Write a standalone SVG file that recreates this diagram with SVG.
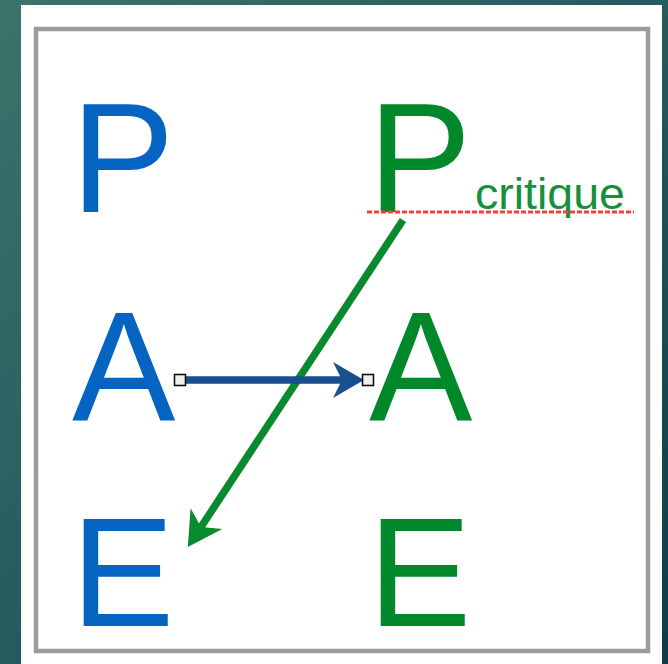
<svg xmlns="http://www.w3.org/2000/svg" width="668" height="664" viewBox="0 0 668 664">
  <defs>
    <linearGradient id="bg" x1="0" y1="0" x2="1" y2="1">
      <stop offset="0" stop-color="#3a746b"/>
      <stop offset="0.5" stop-color="#255a5e"/>
      <stop offset="1" stop-color="#0e3a4a"/>
    </linearGradient>
    <marker id="headBlue" markerUnits="userSpaceOnUse" markerWidth="40" markerHeight="40" refX="0" refY="0" viewBox="-10 -20 40 40" orient="auto" overflow="visible">
      <path d="M22,0 L-9,-18 L0,0 L-9,18 Z" fill="#1a4f8e"/>
    </marker>
    <marker id="headGreen" markerUnits="userSpaceOnUse" markerWidth="40" markerHeight="40" refX="0" refY="0" viewBox="-10 -20 40 40" orient="auto" overflow="visible">
      <path d="M24,0 L-10,-19 L0,0 L-10,19 Z" fill="#0a8a2e"/>
    </marker>
  </defs>
  <style>
    .big { font-family: "Liberation Sans", Arial, sans-serif; font-size: 155px; }
    .blue { fill: #0563c1; }
    .green { fill: #00882b; }
    .handle { fill: #f0f0f0; stroke: #111; stroke-width: 1.6; }
  </style>
  <rect x="0" y="0" width="668" height="664" fill="url(#bg)"/>
  <rect x="21" y="5" width="641" height="659" fill="#ffffff"/>
  <rect x="36" y="29" width="612" height="622" fill="none" stroke="#9a9b9f" stroke-width="4.5"/>

  <g id="node-P-left"><text class="big blue" x="71" y="212">P</text></g>
  <g id="node-A-left"><text class="big blue" x="72" y="420">A</text></g>
  <g id="node-E-left"><text class="big blue" x="71" y="626">E</text></g>
  <g id="node-P-right"><text class="big green" x="368" y="212">P</text></g>
  <g id="node-A-right"><text class="big green" x="369" y="420">A</text></g>
  <g id="node-E-right"><text class="big green" x="368" y="626">E</text></g>

  <g id="label-critique">
    <text x="475" y="209" font-family="'Liberation Sans', Arial, sans-serif" font-size="44" fill="#16903a" textLength="150" lengthAdjust="spacingAndGlyphs">critique</text>
    <line x1="367" y1="212" x2="634" y2="212" stroke="#ff3b3b" stroke-width="3" stroke-dasharray="5 2"/>
  </g>

  <g id="connectors">
    <line x1="403" y1="220" x2="201" y2="527" stroke="#0a8a2e" stroke-width="7.5" marker-end="url(#headGreen)"/>
    <line x1="180" y1="380" x2="342" y2="380" stroke="#1a4f8e" stroke-width="7.5" marker-end="url(#headBlue)"/>
    <rect class="handle" x="174.5" y="374.5" width="11" height="11"/>
    <rect class="handle" x="362.5" y="374.5" width="11" height="11"/>
  </g>
</svg>
